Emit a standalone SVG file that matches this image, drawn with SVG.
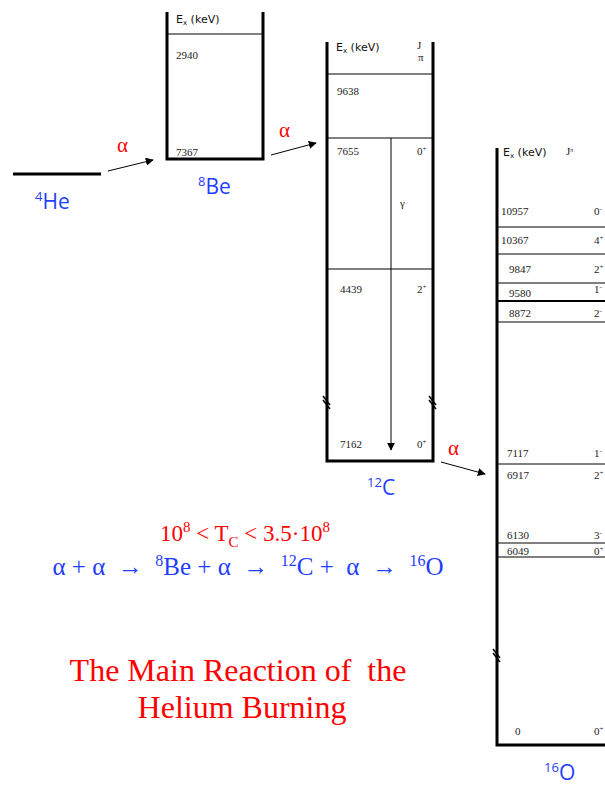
<svg xmlns="http://www.w3.org/2000/svg" width="605" height="787" viewBox="0 0 605 787">
<style>
.thick{stroke:#000;stroke-width:3;fill:none}
.thin{stroke:#000;stroke-width:1;fill:none}
.num{font-family:"Liberation Serif",serif;font-size:11px;fill:#222}
.hd{font-family:"DejaVu Sans","Liberation Sans",sans-serif;font-size:11px;fill:#111}
.lab{font-family:"Open Sans","DejaVu Sans",sans-serif;font-size:21px;fill:#1f3dff}
.alpha{font-family:"Liberation Serif",serif;font-size:21px;fill:#ff0000}
.red{font-family:"Liberation Serif",serif;fill:#ff0000;white-space:pre}
.blue{font-family:"Liberation Serif",serif;fill:#1f3dff;white-space:pre}
.brk{stroke:#000;stroke-width:1.5}
</style>
<defs>
<marker id="ah" viewBox="0 0 10 10" refX="9" refY="5" markerWidth="8" markerHeight="8" markerUnits="userSpaceOnUse" orient="auto">
<path d="M0,0 L10,5 L0,10 z" fill="#000"/>
</marker>
</defs>
<rect width="605" height="787" fill="#fff"/>

<g id="he4">
<line class="thick" x1="13" y1="174" x2="101" y2="174"/>
<text class="lab" x="35" y="209"><tspan font-size="13" dy="-8">4</tspan><tspan dy="8">He</tspan></text>
</g>

<g id="be8">
<path class="thick" d="M167,12 V159 H263 V12"/>
<line class="thin" x1="168" y1="34" x2="262" y2="34"/>
<text class="hd" x="176" y="23">E<tspan font-size="7" dy="2">x</tspan><tspan dy="-2"> (keV)</tspan></text>
<text class="num" x="176" y="59">2940</text>
<text class="num" x="176" y="156">7367</text>
<text class="lab" x="198" y="194"><tspan font-size="13" dy="-8">8</tspan><tspan dy="8">Be</tspan></text>
</g>

<g id="c12">
<path class="thick" d="M327,42 V461 H433 V42"/>
<line class="thin" x1="328" y1="74" x2="432" y2="74"/>
<line class="thin" x1="328" y1="138" x2="432" y2="138"/>
<line class="thin" x1="328" y1="269" x2="432" y2="269"/>
<text class="hd" x="336" y="51">E<tspan font-size="7" dy="2">x</tspan><tspan dy="-2"> (keV)</tspan></text>
<text class="num" x="417" y="49" font-size="9">J</text>
<text class="num" x="418" y="61" font-size="6">π</text>
<text class="num" x="337" y="95">9638</text>
<text class="num" x="337" y="155">7655</text>
<text class="num" x="417" y="155">0<tspan font-size="7" dy="-4">+</tspan></text>
<text class="num" x="400" y="207">γ</text>
<text class="num" x="340" y="293">4439</text>
<text class="num" x="417" y="293">2<tspan font-size="7" dy="-4">+</tspan></text>
<text class="num" x="340" y="448">7162</text>
<text class="num" x="417" y="448">0<tspan font-size="7" dy="-4">+</tspan></text>
<line class="brk" x1="323" y1="396" x2="330" y2="405"/>
<line class="brk" x1="323" y1="400" x2="330" y2="409"/>
<line class="brk" x1="429" y1="396" x2="436" y2="405"/>
<line class="brk" x1="429" y1="400" x2="436" y2="409"/>
<text class="lab" x="367" y="495"><tspan font-size="13" dy="-8">12</tspan><tspan dy="8">C</tspan></text>
</g>

<g id="o16">
<path class="thick" d="M497,148 V745 H605"/>
<text class="hd" x="503" y="156">E<tspan font-size="7" dy="2">x</tspan><tspan dy="-2"> (keV)</tspan></text>
<text class="num" x="566" y="155" font-size="9">J<tspan font-size="6" dy="-3">π</tspan></text>
<line class="thin" x1="498" y1="227" x2="605" y2="227"/>
<line class="thin" x1="498" y1="254" x2="605" y2="254"/>
<line class="thin" x1="498" y1="283" x2="605" y2="283"/>
<line stroke="#000" stroke-width="2" x1="498" y1="301" x2="605" y2="301"/>
<line class="thin" x1="498" y1="322" x2="605" y2="322"/>
<line class="thin" x1="498" y1="464" x2="605" y2="464"/>
<line class="thin" x1="498" y1="543" x2="605" y2="543"/>
<line class="thin" x1="498" y1="557" x2="605" y2="557"/>
<text class="num" x="501" y="215">10957</text>
<text class="num" x="594" y="215">0<tspan font-size="7" dy="-4">-</tspan></text>
<text class="num" x="501" y="244">10367</text>
<text class="num" x="594" y="244">4<tspan font-size="7" dy="-4">+</tspan></text>
<text class="num" x="509" y="273">9847</text>
<text class="num" x="594" y="273">2<tspan font-size="7" dy="-4">+</tspan></text>
<text class="num" x="509" y="297">9580</text>
<text class="num" x="594" y="293">1<tspan font-size="7" dy="-4">-</tspan></text>
<text class="num" x="509" y="317">8872</text>
<text class="num" x="594" y="317">2<tspan font-size="7" dy="-4">-</tspan></text>
<text class="num" x="507" y="457">7117</text>
<text class="num" x="594" y="457">1<tspan font-size="7" dy="-4">-</tspan></text>
<text class="num" x="507" y="479">6917</text>
<text class="num" x="594" y="479">2<tspan font-size="7" dy="-4">+</tspan></text>
<text class="num" x="507" y="539">6130</text>
<text class="num" x="594" y="539">3<tspan font-size="7" dy="-4">-</tspan></text>
<text class="num" x="507" y="555">6049</text>
<text class="num" x="594" y="555">0<tspan font-size="7" dy="-4">+</tspan></text>
<text class="num" x="515" y="735">0</text>
<text class="num" x="594" y="735">0<tspan font-size="7" dy="-4">+</tspan></text>
<line class="brk" x1="493" y1="649" x2="500" y2="658"/>
<line class="brk" x1="493" y1="653" x2="500" y2="662"/>
<text class="lab" x="544" y="780"><tspan font-size="13" dy="-8">16</tspan><tspan dy="8">O</tspan></text>
</g>

<g id="connectors">
<line class="thin" x1="108" y1="171" x2="153" y2="160" marker-end="url(#ah)"/>
<line class="thin" x1="271" y1="155" x2="316" y2="143" marker-end="url(#ah)"/>
<line class="thin" x1="441" y1="462" x2="485" y2="474" marker-end="url(#ah)"/>
<line class="thin" x1="391" y1="138" x2="391" y2="450" marker-end="url(#ah)"/>
<text class="alpha" x="117" y="152">α</text>
<text class="alpha" x="279" y="137">α</text>
<text class="alpha" x="448" y="455">α</text>
</g>

<g id="equations">
<text class="red" x="245" y="541" font-size="23" text-anchor="middle">10<tspan font-size="15" dy="-9">8</tspan><tspan dy="9"> &lt; T</tspan><tspan font-size="15" dy="6">C</tspan><tspan dy="-6"> &lt; 3.5·10</tspan><tspan font-size="15" dy="-9">8</tspan></text>
<text class="blue" x="248" y="575" font-size="25" text-anchor="middle">α + α  →  <tspan font-size="16" dy="-9">8</tspan><tspan dy="9">Be + α  →  </tspan><tspan font-size="16" dy="-9">12</tspan><tspan dy="9">C +  α  →  </tspan><tspan font-size="16" dy="-9">16</tspan><tspan dy="9">O</tspan></text>
<text class="red" x="238" y="681" font-size="32" text-anchor="middle">The Main Reaction of  the</text>
<text class="red" x="242" y="718" font-size="32" text-anchor="middle">Helium Burning</text>
</g>
</svg>
